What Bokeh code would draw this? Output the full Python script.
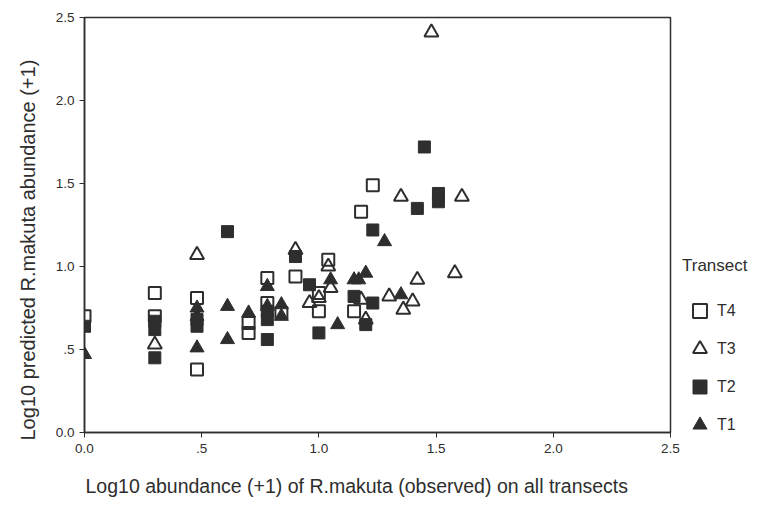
from bokeh.plotting import figure
from bokeh.models import Range1d, FixedTicker, Legend, LegendItem, Title
from bokeh.embed import file_html
from bokeh.resources import INLINE

# ---- data ----
t4_x = [0.00, 0.30, 0.30, 0.48, 0.48, 0.70, 0.70, 0.78, 0.78, 0.84, 0.90, 1.00, 1.00, 1.04, 1.15, 1.18, 1.23]
t4_y = [0.70, 0.84, 0.70, 0.81, 0.38, 0.66, 0.60, 0.93, 0.78, 0.72, 0.94, 0.84, 0.73, 1.04, 0.73, 1.33, 1.49]

t3_x = [0.30, 0.48, 0.90, 0.96, 1.00, 1.04, 1.05, 1.18, 1.20, 1.30, 1.35, 1.36, 1.40, 1.42, 1.48, 1.58, 1.61]
t3_y = [0.53, 1.07, 1.10, 0.78, 0.81, 1.00, 0.87, 0.80, 0.68, 0.82, 1.42, 0.74, 0.79, 0.92, 2.41, 0.96, 1.42]

t2_x = [0.00, 0.30, 0.30, 0.30, 0.48, 0.48, 0.61, 0.78, 0.78, 0.78, 0.90, 0.96, 1.00, 1.15, 1.20, 1.23, 1.23, 1.42, 1.45, 1.51, 1.51]
t2_y = [0.64, 0.67, 0.62, 0.45, 0.68, 0.64, 1.21, 0.73, 0.68, 0.56, 1.06, 0.89, 0.60, 0.82, 0.65, 0.78, 1.22, 1.35, 1.72, 1.44, 1.39]

t1_x = [0.00, 0.48, 0.48, 0.48, 0.61, 0.61, 0.70, 0.78, 0.78, 0.84, 0.84, 1.05, 1.08, 1.15, 1.17, 1.20, 1.28, 1.35]
t1_y = [0.47, 0.75, 0.70, 0.51, 0.76, 0.56, 0.72, 0.88, 0.76, 0.77, 0.70, 0.92, 0.65, 0.92, 0.92, 0.96, 1.15, 0.83]

tick_values = [0.0, 0.5, 1.0, 1.5, 2.0, 2.5]
tick_labels = ["0.0", ".5", "1.0", "1.5", "2.0", "2.5"]

x_title = "Log10 abundance (+1) of R.makuta (observed) on all transects"
y_title = "Log10 predicted R.makuta abundance (+1)"
legend_title = "Transect"

FONT = "Liberation Sans"
INK = "#2e2e2e"

p = figure(frame_width=586, frame_height=415, output_backend="svg", toolbar_location=None,
           x_range=Range1d(0, 2.5), y_range=Range1d(0, 2.5),
           min_border_left=84, min_border_top=17, min_border_bottom=0, min_border_right=0)
p.background_fill_color = "white"
p.border_fill_color = "white"
p.outline_line_color = INK
p.outline_line_width = 1.5
p.grid.visible = False

for ax in (p.xaxis[0], p.yaxis[0]):
    ax.ticker = FixedTicker(ticks=tick_values)
    ax.major_label_overrides = {v: l for v, l in zip(tick_values, tick_labels)}
    ax.minor_tick_line_color = None
    ax.major_tick_in = 0
    ax.major_tick_out = 5
    ax.axis_line_color = INK
    ax.axis_line_width = 1.5
    ax.major_tick_line_color = INK
    ax.major_label_text_font = FONT
    ax.major_label_text_font_size = "13.5px"
    ax.major_label_text_color = INK
p.xaxis.major_label_standoff = 6

xt = Title(text=x_title, align="left", offset=1, standoff=34,
           text_font=FONT, text_font_size="19.5px", text_font_style="normal", text_color=INK)
p.add_layout(xt, "below")
yt = Title(text=y_title, align="left", offset=-8, standoff=27,
           text_font=FONT, text_font_size="20px", text_font_style="normal", text_color=INK)
p.add_layout(yt, "left")

r1 = p.scatter(t1_x, t1_y, marker="triangle", size=14, fill_color=INK, line_color=INK, line_width=1)
r2 = p.scatter(t2_x, t2_y, marker="square", size=12, fill_color=INK, line_color=INK, line_width=1)
r3 = p.scatter(t3_x, t3_y, marker="triangle", size=14, fill_color=None, line_color=INK, line_width=2)
r4 = p.scatter(t4_x, t4_y, marker="square", size=12, fill_color=None, line_color=INK, line_width=2)

legend = Legend(items=[LegendItem(label="T4", renderers=[r4]),
                       LegendItem(label="T3", renderers=[r3]),
                       LegendItem(label="T2", renderers=[r2]),
                       LegendItem(label="T1", renderers=[r1])],
                title=legend_title, location=(12, -10))
legend.border_line_color = None
legend.background_fill_alpha = 0
legend.title_text_font = FONT
legend.title_text_font_size = "17px"
legend.title_text_font_style = "normal"
legend.title_text_color = INK
legend.title_standoff = 17
legend.label_text_font = FONT
legend.label_text_font_size = "16px"
legend.label_text_color = INK
legend.glyph_width = 35
legend.glyph_height = 35
legend.label_height = 35
legend.spacing = 3
legend.label_standoff = -5
legend.margin = 0
legend.padding = 0
p.add_layout(legend, "right")

open("out.html", "w").write(file_html(p, INLINE))
